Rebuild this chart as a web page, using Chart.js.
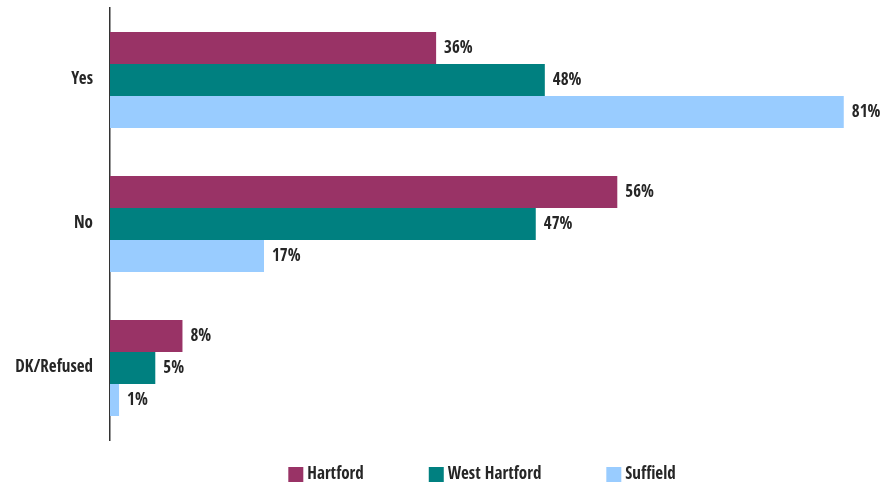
<!DOCTYPE html>
<html>
<head>
<meta charset="utf-8">
<script src="https://cdn.jsdelivr.net/npm/chart.js@4.4.0/dist/chart.umd.min.js"></script>
<style>
  html, body { margin: 0; padding: 0; background: #ffffff; }
  #wrap { width: 886px; height: 485px; position: relative; }
</style>
</head>
<body>
<div id="wrap"><canvas id="c" width="886" height="485"></canvas></div>
<script>
const categories = ['Yes', 'No', 'DK/Refused'];
const seriesNames = ['Hartford', 'West Hartford', 'Suffield'];
const hartford = [36, 56, 8];
const westHartford = [48, 47, 5];
const suffield = [81, 17, 1];
const seriesColors = ['#993366', '#008080', '#99CCFF'];

const FONT = "'Open Sans Condensed', 'Roboto Condensed', sans-serif";
const FONT_SIZE = 17;
const TEXT_COLOR = '#262626';

const valueLabels = {
  id: 'valueLabels',
  afterDatasetsDraw(chart) {
    const ctx = chart.ctx;
    ctx.save();
    ctx.font = 'bold ' + FONT_SIZE + 'px ' + FONT;
    ctx.fillStyle = TEXT_COLOR;
    ctx.textAlign = 'left';
    ctx.textBaseline = 'middle';
    chart.data.datasets.forEach((ds, i) => {
      const meta = chart.getDatasetMeta(i);
      meta.data.forEach((el, j) => {
        ctx.fillText(ds.data[j] + '%', el.x + 8, el.y + 1);
      });
    });
    ctx.restore();
  }
};

const bottomLegend = {
  id: 'bottomLegend',
  afterDraw(chart) {
    const ctx = chart.ctx;
    ctx.save();
    ctx.font = 'bold ' + FONT_SIZE + 'px ' + FONT;
    ctx.textBaseline = 'middle';
    ctx.textAlign = 'left';
    const box = 15, gapText = 4, gapItem = 65;
    const items = chart.data.datasets.map(ds => ({
      label: ds.label, color: ds.backgroundColor,
      w: box + gapText + ctx.measureText(ds.label).width
    }));
    const total = items.reduce((s, it) => s + it.w, 0) + gapItem * (items.length - 1);
    let x = 482 - total / 2;
    const yMid = 474.5;
    items.forEach(it => {
      ctx.fillStyle = it.color;
      ctx.fillRect(x, yMid - box / 2, box, box);
      ctx.fillStyle = TEXT_COLOR;
      ctx.fillText(it.label, x + box + gapText, yMid);
      x += it.w + gapItem;
    });
    ctx.restore();
  }
};

const datasets = [hartford, westHartford, suffield].map((vals, i) => ({
  label: seriesNames[i],
  data: vals,
  backgroundColor: seriesColors[i],
  borderWidth: 0,
  categoryPercentage: 0.667,
  barPercentage: 1.0
}));

new Chart(document.getElementById('c'), {
  type: 'bar',
  data: { labels: categories, datasets },
  options: {
    indexAxis: 'y',
    responsive: false,
    animation: false,
    layout: { padding: { top: 8, bottom: 45, right: 6, left: 0 } },
    plugins: {
      legend: { display: false },
      tooltip: { enabled: false }
    },
    scales: {
      x: {
        display: false,
        min: 0,
        max: 85
      },
      y: {
        grid: { display: false, drawTicks: false },
        border: { display: true, color: '#333333', width: 1.5 },
        ticks: {
          color: TEXT_COLOR,
          padding: 17,
          font: { family: FONT, size: FONT_SIZE, weight: 'bold' }
        },
        afterFit(scale) {
          scale.width = 110;
          scale.paddingTop = 0;
          scale.paddingBottom = 0;
        }
      }
    }
  },
  plugins: [valueLabels, bottomLegend]
});
</script>
</body>
</html>
